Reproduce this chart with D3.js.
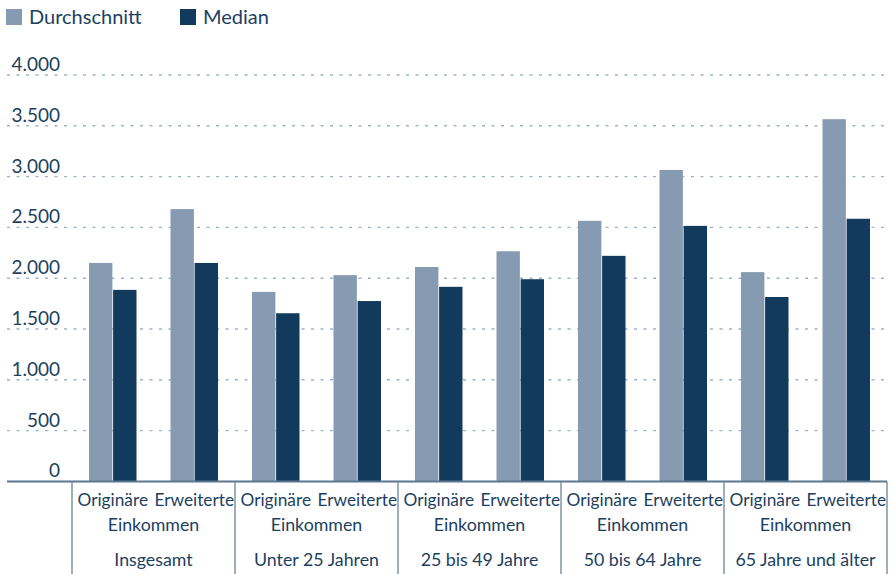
<!DOCTYPE html>
<html>
<head>
<meta charset="utf-8">
<script src="https://cdn.jsdelivr.net/npm/d3@7"></script>
<style>
  body { margin: 0; background: #fff; }
  svg { display: block; font-family: "Lato", "Noto Sans", sans-serif; }
</style>
</head>
<body>
<svg id="chart" width="892" height="574"></svg>
<script>
// groups (age classes) and the two income concepts inside each
var groups = ["Insgesamt", "Unter 25 Jahren", "25 bis 49 Jahre", "50 bis 64 Jahre", "65 Jahre und älter"];
var concepts = ["Originäre", "Erweiterte"];
var series = ["Durchschnitt", "Median"];

// values, in group order, Originäre then Erweiterte
var durchschnitt = [2150, 2680, 1865, 2030, 2110, 2265, 2565, 3065, 2060, 3565];
var median = [1885, 2150, 1655, 1775, 1915, 1990, 2220, 2515, 1815, 2585];

var yTicks = [0, 500, 1000, 1500, 2000, 2500, 3000, 3500, 4000];

var colors = { Durchschnitt: "#869bb2", Median: "#113a5c" };
var textColor = "#1d3f5f";

(function () {
  var svg = d3.select("#chart");
  var plotLeft = 72, plotRight = 887, plotTop = 75, plotBottom = 481.4;

  var y = d3.scaleLinear().domain([0, 4000]).range([plotBottom, plotTop]);

  var gx = d3.scaleBand().domain(groups).range([plotLeft, plotRight]);
  var cx = d3.scaleBand().domain(concepts).range([0, gx.bandwidth()]);
  var sx = d3.scaleBand().domain(series).range([17, cx.bandwidth() - 17]).paddingInner(0.03);

  // gridlines + tick labels
  var grid = svg.append("g");
  grid.selectAll("line").data(yTicks.filter(function (d) { return d > 0; }))
    .enter().append("line")
    .attr("x1", 7).attr("x2", plotRight)
    .attr("y1", function (d) { return y(d); })
    .attr("y2", function (d) { return y(d); })
    .attr("stroke", "#9fb2c7")
    .attr("stroke-width", 1.4)
    .attr("stroke-dasharray", "3,6.5");

  var fmt = function (d) { return d3.format(",")(d).replace(/,/g, "."); };
  grid.selectAll("text").data(yTicks).enter().append("text")
    .attr("x", 60)
    .attr("y", function (d) { return y(d) - 4; })
    .attr("text-anchor", "end")
    .attr("fill", textColor)
    .attr("font-size", 19)
    .text(fmt);

  // bars
  var rows = [];
  groups.forEach(function (g, gi) {
    concepts.forEach(function (c, ci) {
      var i = gi * 2 + ci;
      rows.push({ group: g, concept: c, series: "Durchschnitt", value: durchschnitt[i] });
      rows.push({ group: g, concept: c, series: "Median", value: median[i] });
    });
  });

  svg.append("g").selectAll("rect").data(rows).enter().append("rect")
    .attr("x", function (d) { return gx(d.group) + cx(d.concept) + sx(d.series); })
    .attr("width", sx.bandwidth())
    .attr("y", function (d) { return y(d.value); })
    .attr("height", function (d) { return plotBottom - y(d.value); })
    .attr("fill", function (d) { return colors[d.series]; });

  // baseline
  svg.append("line")
    .attr("x1", 7).attr("x2", plotRight)
    .attr("y1", plotBottom).attr("y2", plotBottom)
    .attr("stroke", "#5b7690").attr("stroke-width", 2);

  // group separators
  var seps = groups.map(function (g) { return gx(g); }).concat([plotRight]);
  svg.append("g").selectAll("line").data(seps).enter().append("line")
    .attr("x1", function (d) { return d; }).attr("x2", function (d) { return d; })
    .attr("y1", plotBottom).attr("y2", 574)
    .attr("stroke", "#6d8499").attr("stroke-width", 1.3);

  // category labels
  var lab = svg.append("g").attr("fill", textColor).attr("text-anchor", "middle");
  groups.forEach(function (g) {
    concepts.forEach(function (c) {
      lab.append("text")
        .attr("x", gx(g) + cx(c) + cx.bandwidth() / 2)
        .attr("y", 506)
        .attr("font-size", 17.3)
        .text(c);
    });
    lab.append("text")
      .attr("x", gx(g) + gx.bandwidth() / 2)
      .attr("y", 531)
      .attr("font-size", 17.8)
      .text("Einkommen");
    lab.append("text")
      .attr("x", gx(g) + gx.bandwidth() / 2)
      .attr("y", 566)
      .attr("font-size", 17.8)
      .text(g);
  });

  // legend
  var legend = svg.append("g");
  var legendX = [6, 180];
  series.forEach(function (s, i) {
    legend.append("rect")
      .attr("x", legendX[i]).attr("y", 9)
      .attr("width", 16).attr("height", 16)
      .attr("fill", colors[s]);
    legend.append("text")
      .attr("x", legendX[i] + 23).attr("y", 24)
      .attr("fill", textColor)
      .attr("font-size", 20)
      .text(s);
  });
})();
</script>
</body>
</html>
